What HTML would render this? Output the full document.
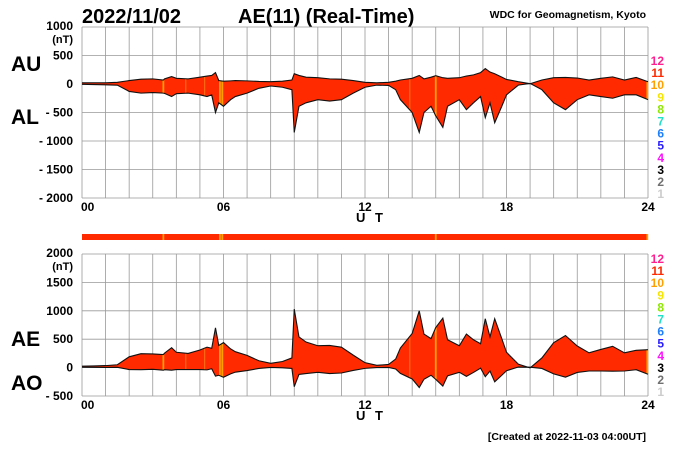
<!DOCTYPE html>
<html><head><meta charset="utf-8"><style>
html,body{margin:0;padding:0;background:#fff;}
svg{display:block;font-family:"Liberation Sans",sans-serif;font-weight:bold;}
</style></head><body>
<svg id="chart" width="700" height="450" viewBox="0 0 700 450">
<text x="82" y="23" font-size="20">2022/11/02</text>
<text x="238" y="23" font-size="20">AE(11) (Real-Time)</text>
<text x="646" y="18" font-size="10.5" text-anchor="end">WDC for Geomagnetism, Kyoto</text>
<text x="646" y="440" font-size="10.5" text-anchor="end">[Created at 2022-11-03 04:00UT]</text>
<text x="11" y="71" font-size="21">AU</text>
<text x="11" y="124" font-size="21">AL</text>
<text x="11" y="346" font-size="21">AE</text>
<text x="11" y="390" font-size="21">AO</text>
</svg>
<script>
const hours = [0,0.5,1,1.5,2,2.5,3,3.45,3.5,3.8,4,4.5,5,5.3,5.5,5.66,5.8,6,6.3,6.5,7,7.5,8,8.5,8.9,9,9.2,9.5,10,10.5,11,11.5,12,12.5,13,13.3,13.5,14,14.3,14.5,14.8,15,15.3,15.5,16,16.3,16.6,16.9,17.1,17.3,17.5,17.8,18,18.5,19,19.5,20,20.5,21,21.5,22,22.5,23,23.5,24];
const au = [20,20,20,30,60,85,90,70,90,130,100,90,120,140,150,200,60,50,55,60,55,45,40,50,70,180,150,120,110,90,85,60,30,20,30,50,70,100,150,90,120,145,110,100,110,140,160,200,270,210,180,120,80,40,5,70,110,115,105,70,100,125,70,115,40];
const al = [-5,-10,-15,-20,-130,-160,-150,-160,-165,-220,-170,-160,-190,-220,-190,-500,-330,-390,-275,-220,-160,-75,-35,-57,-100,-850,-390,-330,-275,-300,-275,-160,-57,-20,-25,-100,-275,-500,-850,-500,-390,-560,-760,-390,-275,-450,-330,-220,-590,-330,-680,-390,-190,-20,10,-100,-330,-450,-275,-190,-220,-250,-190,-190,-275];
const highlightHours = [3.45,5.85,5.95,15.0,23.97];
const faintHours = [4.4,5.2,13.9];
const topTicks = [1000,500,0,-500,-1000,-1500,-2000];
const botTicks = [2000,1500,1000,500,0,-500];
const xTickLabels = ["00","06","12","18","24"];
const legendLabels = ["12","11","10","9","8","7","6","5","4","3","2","1"];
const legendColors = ["#ff1f8e","#ff2a00","#ffa000","#f5e600","#8ee800","#22e0c8","#1e80ff","#2a1eff","#ff10ff","#000000","#707070","#cccccc"];

const NS="http://www.w3.org/2000/svg";
const svg=document.getElementById('chart');
const X0=82,X1=648;
const xs=h=>X0+(X1-X0)*h/24;
function mk(tag,attrs,parent){const e=document.createElementNS(NS,tag);for(const k in attrs)e.setAttribute(k,attrs[k]);(parent||svg).appendChild(e);return e;}
function interp(arr,hh){let i=hours.findIndex(h=>h>=hh);if(i<1)i=1;const f=(hh-hours[i-1])/(hours[i]-hours[i-1]);return arr[i-1]+f*(arr[i]-arr[i-1]);}

function panel(name,top,bottom,vmax,vmin,ticks,upper,lower,xlabY,legendTop){
  const ys=v=>top+(vmax-v)*(bottom-top)/(vmax-vmin);
  const g=mk('g',{});
  
  
  for(let h=0;h<=24;h++){const l=mk('line',{x1:xs(h),x2:xs(h),y1:top,y2:bottom,stroke:'#999','stroke-width':0.8},g);
    }
  ticks.forEach((t,i)=>{const l=mk('line',{x1:X0,x2:X1,y1:ys(t),y2:ys(t),stroke:'#999','stroke-width':0.8},g);
    
    const tx=mk('text',{x:73,y:ys(t)+4+(i==0?-1:0),'font-size':12,'text-anchor':'end'},g);
    tx.textContent=(t<0?'- '+(-t):String(t));
    
  });
  const nt=mk('text',{x:73,y:ys(ticks[0])+16,'font-size':11,'text-anchor':'end'},g);
  nt.textContent='(nT)';
  let pts=hours.map((h,i)=>xs(h)+','+ys(upper[i]));
  let pts2=hours.map((h,i)=>xs(h)+','+ys(lower[i])).reverse();
  const area=mk('polygon',{points:pts.concat(pts2).join(' '),fill:'#ff2a00',stroke:'none'},g);
  
  faintHours.forEach(hh=>{
    const r=mk('rect',{x:xs(hh)-0.6,y:ys(interp(upper,hh)),width:1.2,height:ys(interp(lower,hh))-ys(interp(upper,hh)),fill:'#ff6a10'},g);
    
  });
  highlightHours.forEach(hh=>{
    const r=mk('rect',{x:xs(hh)-0.9,y:ys(interp(upper,hh)),width:1.8,height:ys(interp(lower,hh))-ys(interp(upper,hh)),fill:'#ffa000'},g);
    
  });
  const lu=mk('polyline',{points:pts.join(' '),fill:'none',stroke:'#111','stroke-width':1.1},g);
  
  const ll=mk('polyline',{points:pts2.join(' '),fill:'none',stroke:'#111','stroke-width':1.1},g);
  
  xTickLabels.forEach((t,i)=>{const tx=mk('text',{x:xs(i*6)+(i==0?-1:0),y:bottom+13,'font-size':12,'text-anchor':i==0?'start':'middle'},g);
    tx.textContent=t;});
  const ut=mk('text',{x:xs(12)+6,y:xlabY,'font-size':13,'text-anchor':'middle','letter-spacing':'3'},g);
  ut.textContent='U T';
  legendLabels.forEach((t,i)=>{const tx=mk('text',{x:664,y:legendTop+i*12.1,'font-size':12,'text-anchor':'end',fill:legendColors[i]},g);
    tx.textContent=t;});
}
panel('au-al',27,198,1000,-2000,topTicks,au,al,222,65);
const ae=au.map((u,i)=>u-al[i]);
const ao=au.map((u,i)=>(u+al[i])/2);
panel('ae-ao',254,396,2000,-500,botTicks,ae,ao,420,263);
const bar=mk('rect',{x:X0,y:234,width:X1-X0,height:6,fill:'#ff2a00'});

highlightHours.forEach(hh=>{const r=mk('rect',{x:xs(hh)-0.9,y:234,width:1.8,height:6,fill:'#ffa000'});
  });
</script>
</body></html>
